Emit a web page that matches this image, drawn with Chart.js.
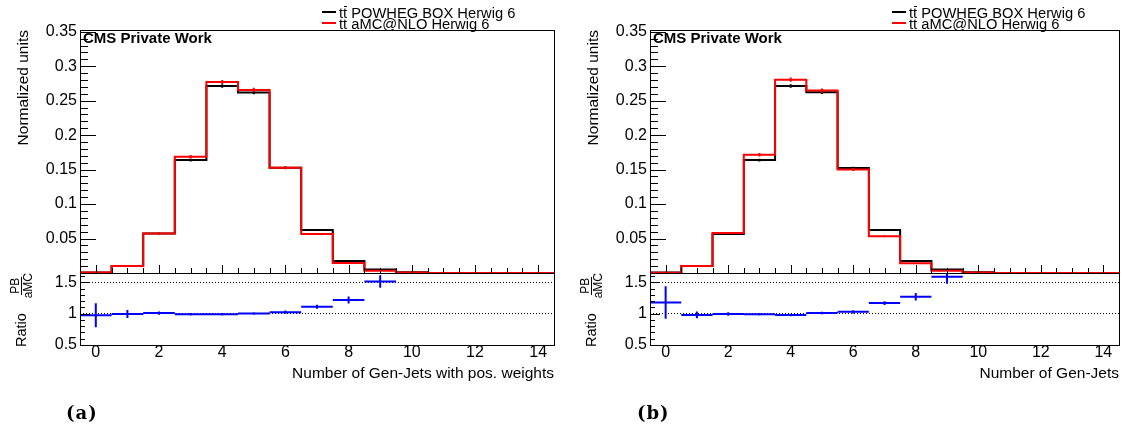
<!DOCTYPE html>
<html>
<head>
<meta charset="utf-8">
<script src="https://cdn.jsdelivr.net/npm/chart.js@4.4.0/dist/chart.umd.min.js"></script>
<style>
  body { margin: 0; background: #fff; width: 1124px; height: 431px; position: relative; overflow: hidden;
         font-family: "Liberation Sans", Arial, Helvetica, sans-serif; color: #000; }
  canvas { position: absolute; top: 0; }
  .t { position: absolute; white-space: nowrap; }
  .mark { position: absolute; height: 2px; width: 14px; }
  .bar { position: relative; }
  .bar::after { content: ""; position: absolute; left: 1px; right: 0; top: 1px; border-top: 1px solid #000; }
  .rot { position: absolute; transform: rotate(-90deg); transform-origin: left top; white-space: nowrap; }
  .frac { display: inline-flex; flex-direction: column; align-items: center; font-size: 12px; line-height: 12px; }
  .frac span:first-child { border-bottom: 1px solid #000; padding: 0 1px; }
  .tag { position: absolute; font-family: "DejaVu Serif", serif; font-weight: bold; font-size: 18px; line-height: 18px; letter-spacing: 1px; }
</style>
</head>
<body>
<canvas id="chartA" width="562" height="431" style="left:0px"></canvas>
<canvas id="chartB" width="554" height="431" style="left:570px"></canvas>
<script>
// bins: number of generator jets
const binCenters = [0, 1, 2, 3, 4, 5, 6, 7, 8, 9, 10, 11, 12, 13, 14];
const binHalf = 0.5;
const xTickValues = [0, 2, 4, 6, 8, 10, 12, 14];
const yTickValues = [0.05, 0.1, 0.15, 0.2, 0.25, 0.3, 0.35];
const ratioTickValues = [0.5, 1, 1.5];

const legendLabels = ['POWHEG BOX Herwig 6', 'aMC@NLO Herwig 6'];

// (a) gen-jets with positive weights
const powhegA = [0.0008, 0.0101, 0.0572, 0.1638, 0.2714, 0.2618, 0.1527, 0.0625, 0.0175, 0.0050, 0.0012, 0, 0, 0, 0];
const amcA    = [0.0008, 0.0101, 0.0572, 0.1685, 0.2770, 0.2656, 0.1527, 0.0567, 0.0144, 0.0033, 0.0006, 0, 0, 0, 0];
const powhegErrA = [0.0003, 0.0006, 0.0012, 0.0020, 0.0025, 0.0025, 0.0018, 0.0012, 0.0006, 0.0004, 0.0002, 0, 0, 0, 0];
const amcErrA    = [0.0003, 0.0008, 0.0015, 0.0025, 0.0030, 0.0030, 0.0022, 0.0014, 0.0007, 0.0004, 0.0002, 0, 0, 0, 0];
const ratioA    = [0.975, 0.995, 1.01, 0.99, 0.99, 1.005, 1.025, 1.11, 1.22, 1.515, null, null, null, null, null];
const ratioErrA = [0.19, 0.065, 0.027, 0.02, 0.02, 0.02, 0.025, 0.032, 0.056, 0.10, null, null, null, null, null];

// (b) all gen-jets
const powhegB = [0.0006, 0.0101, 0.0567, 0.1638, 0.2714, 0.2622, 0.1523, 0.0625, 0.0175, 0.0050, 0.0012, 0, 0, 0, 0];
const amcB    = [0.0005, 0.0103, 0.0581, 0.1715, 0.2805, 0.2646, 0.1503, 0.0533, 0.0140, 0.0032, 0.0006, 0, 0, 0, 0];
const powhegErrB = [0.0003, 0.0006, 0.0012, 0.0020, 0.0025, 0.0025, 0.0018, 0.0012, 0.0006, 0.0004, 0.0002, 0, 0, 0, 0];
const amcErrB    = [0.0003, 0.0008, 0.0015, 0.0025, 0.0030, 0.0030, 0.0022, 0.0014, 0.0007, 0.0004, 0.0002, 0, 0, 0, 0];
const ratioB    = [1.18, 0.98, 0.995, 0.99, 0.98, 1.01, 1.03, 1.17, 1.27, 1.59, null, null, null, null, null];
const ratioErrB = [0.26, 0.054, 0.027, 0.02, 0.02, 0.02, 0.025, 0.03, 0.06, 0.11, null, null, null, null, null];

const tickFont = { family: '"Liberation Sans", Arial, sans-serif', size: 16, lineHeight: 1 };

// step line: one point at each left bin edge, plus the closing right edge
function histPoints(vals) {
  const pts = binCenters.map((c, i) => ({ x: c - binHalf, y: vals[i] }));
  pts.push({ x: binCenters[binCenters.length - 1] + binHalf, y: vals[vals.length - 1] });
  return pts;
}

// vertical error segments, separated by gaps
function errPoints(vals, errs) {
  const pts = [];
  binCenters.forEach((c, i) => {
    if (!vals[i]) return;
    pts.push({ x: c, y: vals[i] - errs[i] }, { x: c, y: vals[i] + errs[i] }, { x: c, y: null });
  });
  return pts;
}

// ratio crosses: bin-width horizontal bar + vertical error
function ratioPoints(vals, errs) {
  const pts = [];
  binCenters.forEach((c, i) => {
    if (vals[i] == null) return;
    pts.push({ x: c - binHalf, y: vals[i] }, { x: c + binHalf, y: vals[i] }, { x: c, y: null });
    pts.push({ x: c, y: vals[i] - errs[i] }, { x: c, y: vals[i] + errs[i] }, { x: c, y: null });
  });
  return pts;
}

// ROOT style frame and inward tick marks
const rootFrame = {
  id: 'rootFrame',
  afterDraw(chart) {
    const { ctx } = chart;
    const { x, y, y2 } = chart.scales;
    const px = v => Math.round(v) + 0.5;
    ctx.save();
    ctx.strokeStyle = '#000';
    ctx.lineWidth = 1;
    for (const s of [y, y2]) {
      ctx.strokeRect(px(x.left), px(s.top), Math.round(x.right - x.left), Math.round(s.bottom - s.top));
    }
    ctx.beginPath();
    for (let i = 1; i <= 35; i++) {
      const yy = px(y.getPixelForValue(i / 100));
      ctx.moveTo(x.left, yy);
      ctx.lineTo(x.left + (i % 5 === 0 ? 16 : 8), yy);
    }
    for (let i = 6; i <= 16; i++) {
      const yy = px(y2.getPixelForValue(i / 10));
      ctx.moveTo(x.left, yy);
      ctx.lineTo(x.left + (i % 5 === 0 ? 10 : 5), yy);
    }
    for (let i = 0; i <= 28; i++) {
      const xx = px(x.getPixelForValue(i / 2));
      ctx.moveTo(xx, y.bottom);
      ctx.lineTo(xx, y.bottom - (i % 4 === 0 ? 8 : 5));
    }
    ctx.stroke();
    ctx.restore();
  }
};

function makePanel(id, rightPad, powheg, amc, powhegErr, amcErr, ratio, ratioErr) {
  const line = (data, color, yAxisID, width, order, stepped) => ({
    data, borderColor: color, borderWidth: width, pointRadius: 0, fill: false,
    stepped, spanGaps: false, xAxisID: 'x', yAxisID, order
  });
  return new Chart(document.getElementById(id), {
    type: 'line',
    data: {
      datasets: [
        line(histPoints(powheg), '#000000', 'y', 2, 4, true),
        line(errPoints(powheg, powhegErr), '#000000', 'y', 2, 3, false),
        line(histPoints(amc), '#ff0000', 'y', 2, 2, true),
        line(errPoints(amc, amcErr), '#ff0000', 'y', 2, 1, false),
        line(ratioPoints(ratio, ratioErr), '#0000ff', 'y2', 2, 0, false)
      ]
    },
    options: {
      responsive: false,
      animation: false,
      layout: { padding: { top: 30, right: rightPad, left: 0, bottom: 0 } },
      plugins: { legend: { display: false }, tooltip: { enabled: false } },
      scales: {
        x: {
          type: 'linear', position: 'bottom', min: -0.5, max: 14.5,
          afterBuildTicks: s => { s.ticks = xTickValues.map(v => ({ value: v })); },
          afterFit: s => { s.height = 86; },
          grid: { display: false, drawTicks: false },
          border: { display: false },
          ticks: { font: tickFont, color: '#000', padding: 0, maxRotation: 0, autoSkip: false }
        },
        // upper pad (weight puts it first in the left stack)
        y: {
          type: 'linear', position: 'left', weight: 1, min: 0, max: 0.3525, stack: 'pad', stackWeight: 243,
          afterBuildTicks: s => { s.ticks = yTickValues.map(v => ({ value: v })); },
          afterFit: s => { s.width = 80; },
          grid: { display: false, drawTicks: false },
          border: { display: false },
          ticks: { font: tickFont, color: '#000', padding: 3, autoSkip: false, callback: v => String(v) }
        },
        // ratio pad
        y2: {
          type: 'linear', position: 'left', weight: 0, min: 0.5, max: 1.65, stack: 'pad', stackWeight: 72,
          afterBuildTicks: s => { s.ticks = ratioTickValues.map(v => ({ value: v })); },
          afterFit: s => { s.width = 80; },
          grid: { drawTicks: false, lineWidth: 1,
                  color: c => (c.tick && c.tick.value > 0.5 ? '#000' : 'rgba(0,0,0,0)') },
          border: { display: false, dash: [1, 2] },
          ticks: { font: tickFont, color: '#000', padding: 3, autoSkip: false, callback: v => String(v) }
        }
      }
    },
    plugins: [rootFrame]
  });
}

makePanel('chartA', 8, powhegA, amcA, powhegErrA, amcErrA, ratioA, ratioErrA);
makePanel('chartB', 5, powhegB, amcB, powhegErrB, amcErrB, ratioB, ratioErrB);

// text around each panel
function addText(left, xTitle, xTitleRight, tag, tagLeft) {
  const add = (html, cls, style) => {
    const d = document.createElement('div');
    d.className = cls;
    d.innerHTML = html;
    Object.assign(d.style, style);
    document.body.appendChild(d);
  };
  add('', 'mark', { left: (left + 242) + 'px', top: '11px', background: '#000' });
  add('', 'mark', { left: (left + 242) + 'px', top: '22px', background: '#ff0000' });
  add('t<span class="bar">t</span> ' + legendLabels[0], 't',
      { left: (left + 259) + 'px', top: '7px', fontSize: '14.7px', lineHeight: '12px' });
  add('tt ' + legendLabels[1], 't',
      { left: (left + 259) + 'px', top: '18px', fontSize: '14.7px', lineHeight: '12px' });
  add('CMS Private Work', 't',
      { left: (left + 3) + 'px', top: '30px', fontSize: '15px', lineHeight: '15px', fontWeight: 'bold' });
  add('Normalized units', 'rot',
      { left: (left - 65) + 'px', top: '230px', width: '200px', height: '16px', lineHeight: '16px',
        fontSize: '15.5px', textAlign: 'right' });
  add('<span>Ratio</span><span style="display:inline-block;width:16px"></span>' +
      '<span class="frac"><span>PB</span><span>aMC</span></span>', 'rot',
      { left: (left - 73) + 'px', top: '347px', width: '74px', height: '28px', display: 'flex',
        justifyContent: 'flex-end', alignItems: 'center', fontSize: '14.5px' });
  add(xTitle, 't',
      { left: (xTitleRight - 400) + 'px', width: '400px', textAlign: 'right', top: '364px',
        fontSize: '15.5px', lineHeight: '18px' });
  add(tag, 'tag', { left: tagLeft + 'px', top: '404px' });
}

addText(80, 'Number of Gen-Jets with pos. weights', 554, '(a)', 66);
addText(650, 'Number of Gen-Jets', 1119, '(b)', 637);
</script>
</body>
</html>
